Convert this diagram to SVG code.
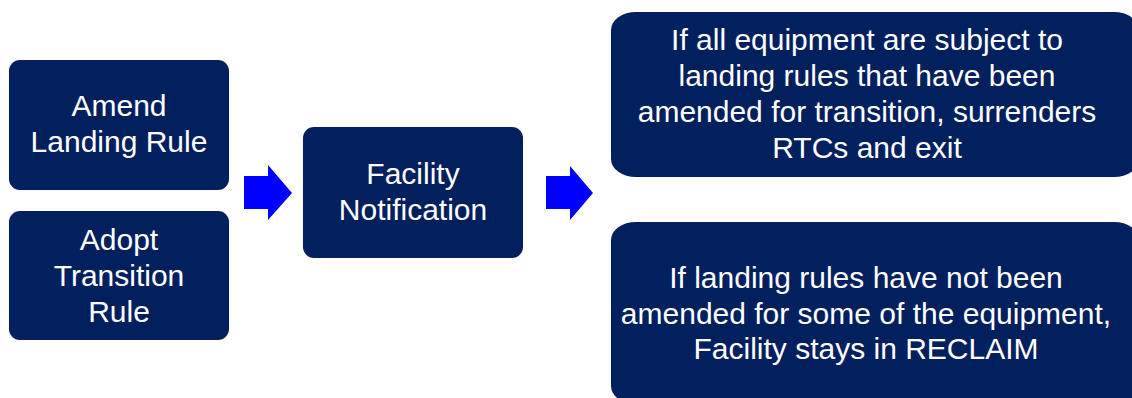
<svg xmlns="http://www.w3.org/2000/svg" width="1132" height="398" viewBox="0 0 1132 398">
<style>
.box{fill:#03205e}
.t{fill:#ffffff;font-family:"Liberation Sans",Arial,sans-serif;font-size:30px;text-anchor:middle}
.arr{fill:#0000ff}
</style>
<rect width="1132" height="398" fill="#ffffff"/>
<g id="amend">
<rect class="box" x="9" y="60" width="220" height="130" rx="11"/>
<text class="t" x="119" y="116">Amend</text>
<text class="t" x="119" y="152">Landing Rule</text>
</g>
<g id="adopt">
<rect class="box" x="9" y="211" width="220" height="129" rx="11"/>
<text class="t" x="119" y="250">Adopt</text>
<text class="t" x="119" y="286">Transition</text>
<text class="t" x="119" y="322">Rule</text>
</g>
<g id="facility">
<rect class="box" x="303" y="127" width="220" height="131" rx="11"/>
<text class="t" x="413" y="184">Facility</text>
<text class="t" x="413" y="220">Notification</text>
</g>
<g id="exit">
<rect class="box" x="611" y="12" width="528" height="165" rx="25" ry="18"/>
<text class="t" x="867" y="50">If all equipment are subject to</text>
<text class="t" x="867" y="86">landing rules that have been</text>
<text class="t" x="867" y="122">amended for transition, surrenders</text>
<text class="t" x="867" y="158">RTCs and exit</text>
</g>
<g id="stay">
<rect class="box" x="611" y="222" width="528" height="182" rx="25" ry="18"/>
<text class="t" x="866" y="288">If landing rules have not been</text>
<text class="t" x="866" y="324">amended for some of the equipment,</text>
<text class="t" x="866" y="359">Facility stays in RECLAIM</text>
</g>
<g id="connectors">
<polygon class="arr" points="244,176 268,176 268,165 292,193 268,220 268,209 244,209"/>
<polygon class="arr" points="546,176 570,176 570,166 593,193 570,220 570,209 546,209"/>
</g>
</svg>
